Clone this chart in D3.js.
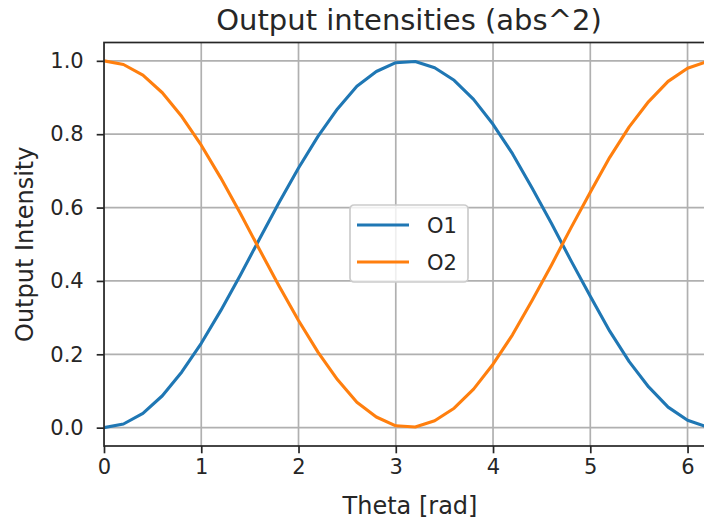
<!DOCTYPE html>
<html>
<head>
<meta charset="utf-8">
<script src="https://cdn.jsdelivr.net/npm/d3@7"></script>
<style>
  body { margin: 0; background: #fff; }
  svg text { font-family: "DejaVu Sans", sans-serif; fill: #262626; }
</style>
</head>
<body>
<div class="chart"></div>
<script>
// theta samples (rad)
const theta = [0.0, 0.2, 0.4, 0.6, 0.8, 1.0, 1.2, 1.4, 1.6, 1.8, 2.0, 2.2, 2.4, 2.6, 2.8, 3.0,
               3.2, 3.4, 3.6, 3.8, 4.0, 4.2, 4.4, 4.6, 4.8, 5.0, 5.2, 5.4, 5.6, 5.8, 6.0, 6.2];
// output intensities
const o1 = [0.000, 0.010, 0.039, 0.087, 0.152, 0.230, 0.319, 0.415, 0.515, 0.614, 0.708, 0.794,
            0.869, 0.931, 0.971, 0.995, 0.998, 0.981, 0.947, 0.895, 0.827, 0.747, 0.654, 0.557,
            0.456, 0.358, 0.263, 0.180, 0.111, 0.056, 0.020, 0.002];
const o2 = [1.000, 0.990, 0.961, 0.913, 0.848, 0.770, 0.681, 0.585, 0.485, 0.386, 0.292, 0.206,
            0.131, 0.069, 0.029, 0.005, 0.002, 0.019, 0.053, 0.105, 0.173, 0.253, 0.346, 0.443,
            0.544, 0.642, 0.737, 0.820, 0.889, 0.944, 0.980, 0.998];
const seriesNames = ["O1", "O2"];
const xTicks = [0, 1, 2, 3, 4, 5, 6];
const yTicks = [0.0, 0.2, 0.4, 0.6, 0.8, 1.0];

const width = 704, height = 525;
const axL = 104, axR = 707, axT = 42.5, axB = 446;
const fs = 21;     // ticks, legend
const lfs = 24;    // axis labels

const svg = d3.select(".chart").append("svg")
  .attr("width", width)
  .attr("height", height);

svg.append("defs").append("clipPath").attr("id", "clip")
  .append("rect")
    .attr("x", axL).attr("y", axT)
    .attr("width", axR - axL).attr("height", axB - axT);

const x = d3.scaleLinear().domain([0, 6.2]).range([axL, axR]);
const y = d3.scaleLinear().domain([-0.05, 1.05]).range([axB, axT]);

// grid
const grid = svg.append("g").attr("clip-path", "url(#clip)");
grid.selectAll(".gx").data(xTicks).enter().append("line")
  .attr("x1", d => x(d)).attr("x2", d => x(d))
  .attr("y1", axT).attr("y2", axB)
  .style("stroke", "#b0b0b0").style("stroke-width", 1.7);
grid.selectAll(".gy").data(yTicks).enter().append("line")
  .attr("x1", axL).attr("x2", axR)
  .attr("y1", d => y(d)).attr("y2", d => y(d))
  .style("stroke", "#b0b0b0").style("stroke-width", 1.7);

// lines
const line = d3.line()
  .x((d, i) => x(theta[i]))
  .y(d => y(d));
const color = d3.scaleOrdinal().domain(seriesNames).range(["#1f77b4", "#ff7f0e"]);
const series = [{ name: "O1", values: o1 }, { name: "O2", values: o2 }];

svg.append("g").attr("clip-path", "url(#clip)")
  .selectAll("path").data(series).enter().append("path")
    .attr("d", d => line(d.values))
    .style("fill", "none")
    .style("stroke", d => color(d.name))
    .style("stroke-width", 3.1)
    .style("stroke-linejoin", "round")
    .style("stroke-linecap", "square");

// axes
const xAxis = svg.append("g")
  .attr("transform", `translate(0,${axB})`)
  .call(d3.axisBottom(x).tickValues(xTicks).tickFormat(d3.format("d")).tickSize(7.3).tickPadding(6));
const yAxis = svg.append("g")
  .attr("transform", `translate(${axL},0)`)
  .call(d3.axisLeft(y).tickValues(yTicks).tickFormat(d3.format(".1f")).tickSize(7.3).tickPadding(13));
[xAxis, yAxis].forEach(a => {
  a.select(".domain").remove();
  a.selectAll(".tick line").style("stroke", "#262626").style("stroke-width", 1.7);
  a.selectAll(".tick text")
    .style("font-family", "DejaVu Sans")
    .style("font-size", fs + "px")
    .style("fill", "#262626");
});

// spines
svg.append("rect")
  .attr("x", axL).attr("y", axT)
  .attr("width", axR - axL).attr("height", axB - axT)
  .style("fill", "none")
  .style("stroke", "#262626")
  .style("stroke-width", 1.7);

// title and labels
svg.append("text")
  .attr("x", 409)
  .attr("y", 30)
  .attr("text-anchor", "middle")
  .style("font-size", "29px")
  .text("Output intensities (abs^2)");
svg.append("text")
  .attr("x", 410)
  .attr("y", 514)
  .attr("text-anchor", "middle")
  .style("font-size", lfs + "px")
  .text("Theta [rad]");
svg.append("text")
  .attr("transform", `translate(33,${(axT + axB) / 2}) rotate(-90)`)
  .attr("text-anchor", "middle")
  .style("font-size", lfs + "px")
  .text("Output Intensity");

// legend
const legend = svg.append("g").attr("transform", "translate(350,205)");
legend.append("rect")
  .attr("width", 118).attr("height", 77)
  .attr("rx", 4).attr("ry", 4)
  .style("fill", "#fff").style("fill-opacity", 0.8)
  .style("stroke", "#cccccc").style("stroke-width", 1.7);
const items = legend.selectAll(".item").data(seriesNames).enter().append("g")
  .attr("transform", (d, i) => `translate(0,${20 + i * 37})`);
items.append("line")
  .attr("x1", 7).attr("x2", 59)
  .style("stroke", d => color(d))
  .style("stroke-width", 3.1);
items.append("text")
  .attr("x", 77).attr("y", 7.5)
  .style("font-size", fs + "px")
  .text(d => d);
</script>
</body>
</html>
